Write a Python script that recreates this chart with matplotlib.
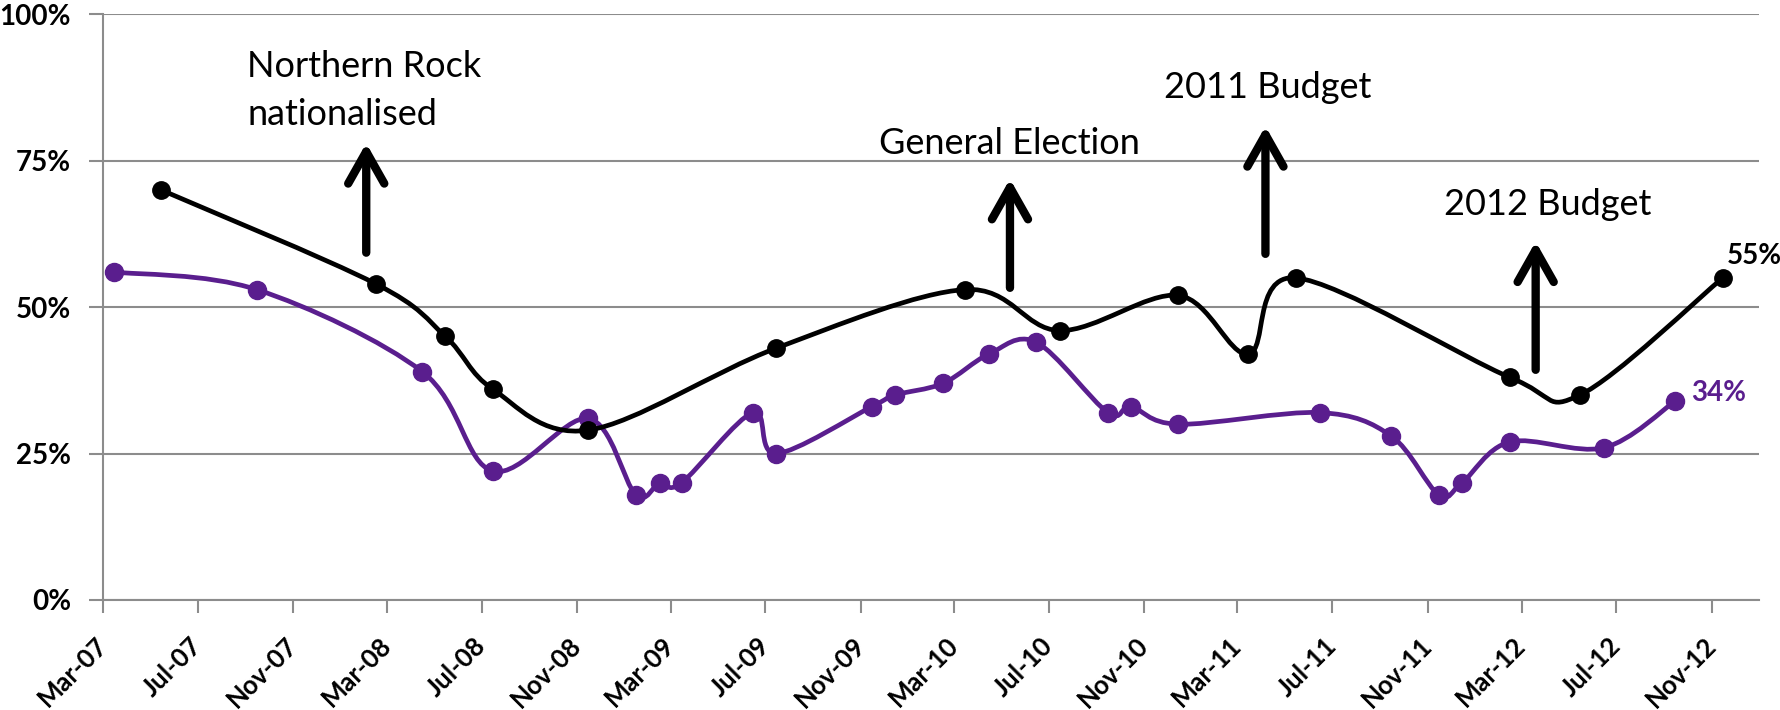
import numpy as np
import matplotlib
matplotlib.use("Agg")
import matplotlib.pyplot as plt
import matplotlib.dates as mdates
from matplotlib.path import Path
from matplotlib.patches import PathPatch
from matplotlib.transforms import ScaledTranslation
import datetime as dt

# ---------------- data ----------------
black_dates = ["2007-05-15", "2008-02-15", "2008-05-15", "2008-07-15", "2008-11-15",
               "2009-07-15", "2010-03-15", "2010-07-15", "2010-12-15", "2011-03-15",
               "2011-05-15", "2012-02-15", "2012-05-15", "2012-11-15"]
black_values = [70, 54, 45, 36, 29, 43, 53, 46, 52, 42, 55, 38, 35, 55]

purple_dates = ["2007-03-15", "2007-09-15", "2008-04-15", "2008-07-15", "2008-11-15",
                "2009-01-15", "2009-02-15", "2009-03-15", "2009-06-15", "2009-07-15",
                "2009-11-15", "2009-12-15", "2010-02-15", "2010-04-15", "2010-06-15",
                "2010-09-15", "2010-10-15", "2010-12-15", "2011-06-15", "2011-09-15",
                "2011-11-15", "2011-12-15", "2012-02-15", "2012-06-15", "2012-09-15"]
purple_values = [56, 53, 39, 22, 31, 18, 20, 20, 32, 25, 33, 35, 37, 42, 44,
                 32, 33, 30, 32, 28, 18, 20, 27, 26, 34]

tick_dates = ["2007-03-01", "2007-07-01", "2007-11-01", "2008-03-01", "2008-07-01",
              "2008-11-01", "2009-03-01", "2009-07-01", "2009-11-01", "2010-03-01",
              "2010-07-01", "2010-11-01", "2011-03-01", "2011-07-01", "2011-11-01",
              "2012-03-01", "2012-07-01", "2012-11-01"]
tick_labels = ["Mar-07", "Jul-07", "Nov-07", "Mar-08", "Jul-08", "Nov-08", "Mar-09",
               "Jul-09", "Nov-09", "Mar-10", "Jul-10", "Nov-10", "Mar-11", "Jul-11",
               "Nov-11", "Mar-12", "Jul-12", "Nov-12"]
y_ticks = [0, 25, 50, 75, 100]
y_labels = ["0%", "25%", "50%", "75%", "100%"]

# events: (label lines, text date, text baseline %, arrow date, arrow tail %, arrow tip %)
events = [
    (["Northern Rock", "nationalised"], "2007-09-03", [89.3, 81.1], "2008-02-03", 59.3, 78.0),
    (["General Election"], "2009-11-24", [76.1], "2010-05-12", 53.3, 71.9),
    (["2011 Budget"], "2010-11-27", [85.7], "2011-04-06", 59.1, 80.9),
    (["2012 Budget"], "2011-11-22", [65.7], "2012-03-19", 39.3, 61.2),
]

BLACK = "#000000"
PURPLE = "#5A1E8E"
GRID = "#8C8C8C"

plt.rcParams["font.family"] = ["Lato", "DejaVu Sans"]


def to_num(ds):
    return mdates.date2num([dt.datetime.strptime(d, "%Y-%m-%d") for d in ds])


def smooth_path(x, y):
    """Excel-like smoothed line: cubic Bezier segments with Catmull-Rom control points."""
    pts = np.column_stack([x, y]).astype(float)
    n = len(pts)
    verts = [pts[0]]
    codes = [Path.MOVETO]
    for i in range(n - 1):
        p0 = pts[i - 1] if i > 0 else pts[i]
        p1 = pts[i]
        p2 = pts[i + 1]
        p3 = pts[i + 2] if i + 2 < n else pts[i + 1]
        c1 = p1 + (p2 - p0) / 6.0
        c2 = p2 - (p3 - p1) / 6.0
        verts += [c1, c2, p2]
        codes += [Path.CURVE4] * 3
    return Path(verts, codes)


fig = plt.figure(figsize=(17.81, 7.10), dpi=100)
ax = fig.add_axes([103 / 1781, 110 / 710, (1759.3 - 103) / 1781, (600 - 14.3) / 710])

bx = to_num(black_dates)
px = to_num(purple_dates)

for xs, ys, col, ms in [(px, purple_values, PURPLE, 13), (bx, black_values, BLACK, 12.5)]:
    ax.add_patch(PathPatch(smooth_path(xs, ys), facecolor="none", edgecolor=col,
                           lw=3.4, capstyle="round", joinstyle="round", zorder=3))
    ax.plot(xs, ys, linestyle="none", marker="o", markersize=ms, color=col, zorder=4)

ax.set_xlim(to_num(["2007-03-01"])[0], to_num(["2013-01-01"])[0])
ax.set_ylim(0, 100)

ax.set_yticks(y_ticks)
ax.set_yticklabels(y_labels, fontsize=20, fontweight="bold")
ax.set_xticks(to_num(tick_dates))
ax.set_xticklabels(tick_labels, fontsize=18.5, fontweight="bold", rotation=45,
                   ha="right", va="center", rotation_mode="anchor")
offset = ScaledTranslation(11 / 100, 0, fig.dpi_scale_trans)
for lab in ax.get_xticklabels():
    lab.set_transform(lab.get_transform() + offset)

ax.tick_params(axis="y", direction="out", length=10, width=1.5, color=GRID, pad=13)
ax.tick_params(axis="x", direction="out", length=9, width=1.5, color=GRID, pad=21)
ax.grid(axis="y", color=GRID, lw=1.5)
ax.set_axisbelow(True)
for s in ["top", "right"]:
    ax.spines[s].set_visible(False)
for s in ["left", "bottom"]:
    ax.spines[s].set_color(GRID)
    ax.spines[s].set_linewidth(1.5)

# event annotations
for lines, tdate, tys, adate, tail, tip in events:
    tx = to_num([tdate])[0]
    for line, ty in zip(lines, tys):
        ax.text(tx, ty, line, fontsize=26, ha="left", va="baseline", color="black", zorder=5)
    axx = to_num([adate])[0]
    ax.annotate("", xy=(axx, tip), xytext=(axx, tail),
                arrowprops=dict(arrowstyle="->,head_length=2.3,head_width=1.3",
                                lw=6, color="black", mutation_scale=10,
                                shrinkA=0, shrinkB=0), zorder=5)

# end-value labels
ax.annotate(f"{black_values[-1]}%", xy=(bx[-1], black_values[-1]), xytext=(3, 10),
            textcoords="offset points", fontsize=20, fontweight="bold", color=BLACK,
            ha="left", va="baseline")
ax.annotate(f"{purple_values[-1]}%", xy=(px[-1], purple_values[-1]), xytext=(11.5, 0),
            textcoords="offset points", fontsize=20, fontweight="bold", color=PURPLE,
            ha="left", va="baseline")

fig.savefig("out.png", dpi=100)
